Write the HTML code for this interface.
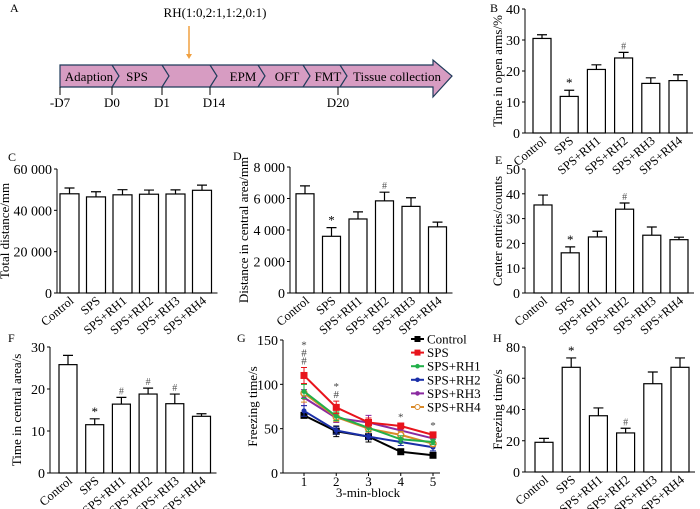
<!DOCTYPE html>
<html><head><meta charset="utf-8"><style>
body{margin:0;background:#fff}
svg{display:block;font-family:"Liberation Serif",serif}
</style></head><body>
<svg id="fig" width="700" height="509" viewBox="0 0 700 509">
<g>
 <text x="10" y="12" font-size="12">A</text>
 <text x="215" y="17" font-size="13" text-anchor="middle">RH(1:0,2:1,1:2,0:1)</text>
 <line x1="189" y1="26" x2="189" y2="55" stroke="#f0a040" stroke-width="1.5"/>
 <polygon points="186,54 192,54 189,59" fill="#f0a040"/>
 <polygon points="60,65 433,65 433,60 452,76 433,97 433,87 60,87" fill="#d79cc2" stroke="#1f3b5a" stroke-width="1.2"/>
 <g fill="none" stroke="#1f3b5a" stroke-width="1.2">
  <polyline points="112,65 119,76 112,87"/><polyline points="162,65 169,76 162,87"/>
  <polyline points="210,65 217,76 210,87"/><polyline points="258,65 265,76 258,87"/>
  <polyline points="303,65 310,76 303,87"/><polyline points="340,65 347,76 340,87"/>
 </g>
 <g font-size="13" text-anchor="middle">
  <text x="89" y="81">Adaption</text><text x="137" y="81">SPS</text><text x="243" y="81">EPM</text>
  <text x="287" y="81">OFT</text><text x="328" y="81">FMT</text><text x="397" y="81">Tissue collection</text>
 </g>
 <g stroke="#000">
  <line x1="60" y1="87" x2="60" y2="95"/><line x1="112" y1="87" x2="112" y2="95"/><line x1="162" y1="87" x2="162" y2="95"/>
  <line x1="210" y1="87" x2="210" y2="95"/><line x1="338" y1="87" x2="338" y2="95"/>
 </g>
 <g font-size="13" text-anchor="middle">
  <text x="60" y="107">-D7</text><text x="112" y="107">D0</text><text x="162" y="107">D1</text>
  <text x="214" y="107">D14</text><text x="338" y="107">D20</text>
 </g>
</g>
<g id="charts"></g>
</svg>
<script>
const NS="http://www.w3.org/2000/svg";
const categories=["Control","SPS","SPS+RH1","SPS+RH2","SPS+RH3","SPS+RH4"];
const bValues=[30.5,11.8,20.5,24.2,16,16.9];
const bErrors=[1.2,2,1.5,1.8,1.8,1.9];
const bTicks=[0,10,20,30,40];
const cValues=[48000,46500,47500,47800,47900,49700];
const cErrors=[2800,2500,2500,2000,2000,2500];
const cTicks=[0,20000,40000,60000];
const dValues=[6300,3600,4700,5850,5500,4200];
const dErrors=[500,550,450,550,550,300];
const dTicks=[0,2000,4000,6000,8000];
const eValues=[35.5,16.2,22.6,33.8,23.3,21.5];
const eErrors=[4,2.4,2.3,2.5,3.3,1];
const eTicks=[0,10,20,30,40,50];
const fValues=[25.8,11.5,16.4,18.8,16.5,13.5];
const fErrors=[2.2,1.4,1.6,1.4,2.3,0.6];
const fTicks=[0,10,20,30];
const hValues=[19,67,36,25,56.5,67];
const hErrors=[2.5,6,5,3,7.5,6];
const hTicks=[0,20,40,60,80];
const gBlocks=[1,2,3,4,5];
const gTicks=[0,50,100,150];
const gSeriesNames=["Control","SPS","SPS+RH1","SPS+RH2","SPS+RH3","SPS+RH4"];
const gControl=[65,47,41,24,20];
const gSPS=[110,74,57,53,43];
const gRH1=[92,64,51,38,35];
const gRH2=[70,48,41,35,29];
const gRH3=[85,62,57,48,39];
const gRH4=[90,63,50,43,33];
const gControlErr=[3,6,6,3,2];
const gSPSErr=[9,7,5,3,3];
const gRH1Err=[8,5,4,4,3];
const gRH2Err=[6,4,3,4,4];
const gRH3Err=[9,5,8,5,4];
const gRH4Err=[10,5,4,4,3];

const root=document.getElementById('charts');
function mk(tag,attrs,parent,txt){const e=document.createElementNS(NS,tag);for(const k in attrs)e.setAttribute(k,attrs[k]);if(txt!==undefined)e.textContent=txt;(parent||root).appendChild(e);return e;}
function fmt(v){return v>=1000?String(v).replace(/(\d)(\d{3})$/,'$1 $2'):String(v);}

function barChart(o){
 const g=mk('g',{});
 
 
 const max=o.ticks[o.ticks.length-1];
 const y=v=>o.bot-(v/max)*(o.bot-o.top);
 const xL=i=>o.b0+i*o.sp;
 const lab=mk('text',{x:o.lx,y:o.ly,'font-size':12},g,o.letter);
 
 
 const ya=mk('line',{x1:o.ax,y1:o.top,x2:o.ax,y2:o.bot,stroke:'#000','stroke-width':1},g);
 
 
 const xa=mk('line',{x1:o.ax,y1:o.bot,x2:o.b0+5*o.sp+o.w+6,y2:o.bot,stroke:'#000','stroke-width':1},g);
 
 
 o.ticks.forEach(t=>{
  mk('line',{x1:o.ax-3,y1:y(t),x2:o.ax,y2:y(t),stroke:'#000'},g);
  const tl=mk('text',{x:o.ax-5,y:y(t)+5,'font-size':14,'text-anchor':'end'},g,fmt(t));
  
  
 });
 const cy=(o.top+o.bot)/2;
 const tt=mk('text',{x:o.tx,y:cy,'font-size':13,'text-anchor':'middle',transform:`rotate(-90 ${o.tx} ${cy})`},g,o.title);
 
 
 o.values.forEach((v,i)=>{
  const cx=xL(i)+o.w/2;
  const r=mk('rect',{x:xL(i),y:y(v),width:o.w,height:o.bot-y(v),fill:'#fff',stroke:'#000','stroke-width':1.2},g);
  
  
  const ey=y(v+o.errors[i]);
  const el=mk('path',{d:`M${cx} ${y(v)}V${ey}M${cx-5} ${ey}H${cx+5}`,stroke:'#000','stroke-width':1.2,fill:'none'},g);
  
  
  const ann=(o.ann[i]||'');
  if(ann){
   const at=mk('text',{x:cx,y:ey-3,'font-size':ann=='*'?13:10,'text-anchor':'middle',fill:ann=='*'?'#000':'#555'},g,ann);
   
   
  }
  const lx=cx+5,ly=o.bot+9;
  const ct=mk('text',{x:lx,y:ly,'font-size':12.5,'text-anchor':'end',transform:`rotate(-40 ${lx} ${ly})`},g,categories[i]);
  
  
 });
}
barChart({name:'panel-b-chart',letter:'B',lx:490,ly:12,ax:525,b0:533,sp:27.2,w:18,top:9,bot:133,tx:502,title:'Time in open arms/%',values:bValues,errors:bErrors,ticks:bTicks,ann:{1:'*',3:'#'}});
barChart({name:'panel-c-chart',letter:'C',lx:8,ly:161,ax:57,b0:60,sp:26.5,w:19,top:169,bot:293,tx:9,title:'Total distance/mm',values:cValues,errors:cErrors,ticks:cTicks,ann:{}});
barChart({name:'panel-d-chart',letter:'D',lx:233,ly:160,ax:290,b0:296,sp:26.5,w:18,top:167,bot:293,tx:248,title:'Distance in central area/mm',values:dValues,errors:dErrors,ticks:dTicks,ann:{1:'*',3:'#'}});
barChart({name:'panel-e-chart',letter:'E',lx:495,ly:164,ax:525,b0:534,sp:27.2,w:18,top:169,bot:293,tx:502,title:'Center entries/counts',values:eValues,errors:eErrors,ticks:eTicks,ann:{1:'*',3:'#'}});
barChart({name:'panel-f-chart',letter:'F',lx:8,ly:342,ax:50,b0:59,sp:26.7,w:18,top:347,bot:473,tx:21,title:'Time in central area/s',values:fValues,errors:fErrors,ticks:fTicks,ann:{1:'*',2:'#',3:'#',4:'#'}});
barChart({name:'panel-h-chart',letter:'H',lx:493,ly:342,ax:525,b0:535,sp:27.2,w:18,top:347,bot:472,tx:502,title:'Freezing time/s',values:hValues,errors:hErrors,ticks:hTicks,ann:{1:'*',3:'#'}});

(function(){
 const g=mk('g',{});
 
 
 const ax=283,top=340,bot=473,x1=304,x5=433;
 const y=v=>bot-(v/150)*(bot-top);
 const x=b=>x1+(b-1)*(x5-x1)/4;
 const L=mk('text',{x:237,y:342,'font-size':12},g,'G');
 
 
 const ya=mk('line',{x1:ax,y1:top,x2:ax,y2:bot,stroke:'#000'},g);
 
 
 const xa=mk('line',{x1:ax,y1:bot,x2:440,y2:bot,stroke:'#000'},g);
 
 
 gTicks.forEach(t=>{mk('line',{x1:ax-3,y1:y(t),x2:ax,y2:y(t),stroke:'#000'},g);
  const tl=mk('text',{x:ax-5,y:y(t)+5,'font-size':14,'text-anchor':'end'},g,t);
  
  });
 gBlocks.forEach(b=>{mk('line',{x1:x(b),y1:bot,x2:x(b),y2:bot+3,stroke:'#000'},g);
  const tl=mk('text',{x:x(b),y:bot+13,'font-size':13,'text-anchor':'middle'},g,b);
  
  });
 const xt=mk('text',{x:368,y:497,'font-size':13,'text-anchor':'middle'},g,'3-min-block');
 
 
 const cy=(top+bot)/2;
 const yt=mk('text',{x:257,y:cy,'font-size':13,'text-anchor':'middle',transform:`rotate(-90 257 ${cy})`},g,'Freezing time/s');
 
 
 const series=[gControl,gSPS,gRH1,gRH2,gRH3,gRH4];
 const errs=[gControlErr,gSPSErr,gRH1Err,gRH2Err,gRH3Err,gRH4Err];
 const colors=['#000','#e8141c','#22b04a','#1a2fa8','#8a2aa0','#d98a2a'];
 const draw=[4,0,3,5,2,1];
 draw.forEach(s=>{
  const vals=series[s];
  const sg=mk('g',{},g);
  
  
  vals.forEach((v,i)=>{const e=errs[s][i];
   mk('path',{d:`M${x(gBlocks[i])} ${y(v-e)}V${y(v+e)}M${x(gBlocks[i])-3} ${y(v+e)}h6M${x(gBlocks[i])-3} ${y(v-e)}h6`,stroke:colors[s],'stroke-width':1,fill:'none'},sg);});
  mk('polyline',{points:vals.map((v,i)=>x(gBlocks[i])+','+y(v)).join(' '),fill:'none',stroke:colors[s],'stroke-width':2},sg);
  vals.forEach((v,i)=>{const px=x(gBlocks[i]),py=y(v);
   if(s<2)mk('rect',{x:px-3.5,y:py-3.5,width:7,height:7,fill:colors[s]},sg);
   else if(s==5)mk('circle',{cx:px,cy:py,r:3,fill:'#fff',stroke:colors[s],'stroke-width':1.5},sg);
   else mk('circle',{cx:px,cy:py,r:2.5,fill:colors[s]},sg);});
 });
 const sig=[[1,['*','#','#'],gSPS[0]+gSPSErr[0]],[2,['*','#'],gSPS[1]+gSPSErr[1]],[4,['*'],gSPS[3]+gSPSErr[3]],[5,['*'],gSPS[4]+gSPSErr[4]]];
 sig.forEach(([b,marks,top])=>{marks.slice().reverse().forEach((m,k)=>{
  const st=mk('text',{x:x(b),y:y(top)-3-k*8,'font-size':11,'text-anchor':'middle',fill:'#444'},g,m);
  
  });});
 gSeriesNames.forEach((n,i)=>{
  const ly=339+i*13.6;
  const lg=mk('g',{},g);
  
  
  mk('line',{x1:411,y1:ly,x2:424,y2:ly,stroke:colors[i],'stroke-width':2},lg);
  if(i<2)mk('rect',{x:414.5,y:ly-3,width:6,height:6,fill:colors[i]},lg);
  else if(i==5)mk('circle',{cx:417.5,cy:ly,r:2.5,fill:'#fff',stroke:colors[i]},lg);
  else mk('circle',{cx:417.5,cy:ly,r:2.3,fill:colors[i]},lg);
  mk('text',{x:427,y:ly+4.5,'font-size':13},lg,n);
 });
})();
</script>
</body></html>
